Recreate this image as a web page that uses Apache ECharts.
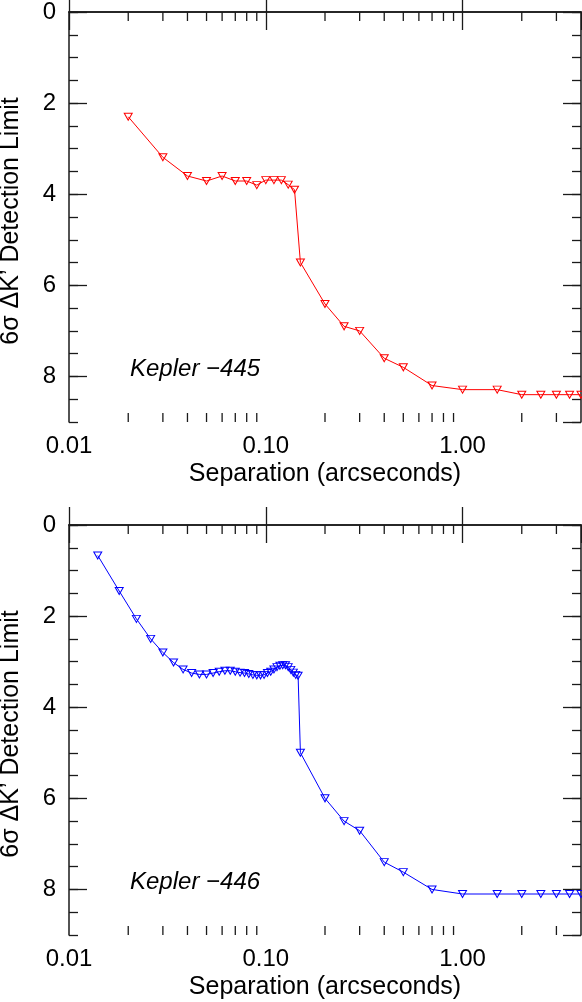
<!DOCTYPE html>
<html><head><meta charset="utf-8">
<script src="https://cdn.jsdelivr.net/npm/echarts@6/dist/echarts.min.js"></script>
<style>html,body{margin:0;padding:0;background:#fff}#c{width:582px;height:1002px}</style>
</head><body><div id="c"></div>
<script>
// ---- data ----
const minorXTicks = [0.02,0.03,0.04,0.05,0.06,0.07,0.08,0.09,0.2,0.3,0.4,0.5,0.6,0.7,0.8,0.9,2,3];
const sepTop = [0.02,0.03,0.04,0.05,0.06,0.07,0.08,0.09,0.10,0.11,0.12,0.13,0.14,0.15,0.2,0.25,0.3,0.4,0.5,0.7,1.0,1.5,2.0,2.5,3.0,3.5,4.0];
const limTop = [2.30,3.19,3.60,3.71,3.60,3.71,3.71,3.80,3.69,3.69,3.69,3.79,3.90,5.50,6.41,6.90,7.00,7.60,7.80,8.20,8.29,8.29,8.40,8.40,8.40,8.40,8.40];
const sepBot = [0.014,0.018,0.022,0.026,0.030,0.034,0.038,0.042,0.046,0.050,0.054,0.058,0.062,0.066,0.070,0.074,0.078,0.082,0.086,0.090,0.094,0.098,0.102,0.106,0.110,0.114,0.118,0.122,0.126,0.130,0.134,0.138,0.142,0.146,0.150,0.2,0.25,0.3,0.4,0.5,0.7,1.0,1.5,2.0,2.5,3.0,3.5,4.0];
const limBot = [0.67,1.45,2.06,2.50,2.80,3.02,3.17,3.25,3.28,3.28,3.25,3.22,3.20,3.20,3.22,3.24,3.25,3.27,3.29,3.30,3.30,3.29,3.25,3.22,3.17,3.12,3.09,3.08,3.08,3.12,3.18,3.24,3.29,3.31,5.00,6.00,6.50,6.71,7.40,7.62,8.00,8.10,8.10,8.10,8.10,8.10,8.10,8.10];
const panelLabels = ['Kepler \u2212445', 'Kepler \u2212446'];
const yTitle = '6\u03c3 \u0394K\u2019 Detection Limit';
const xTitle = 'Separation (arcseconds)';
const X_MIN = 0.01, X_MAX = 4, Y_MIN = 0, Y_MAX = 9;

// ---- chart ----
const FONT = '"Liberation Sans", Arial, Helvetica, sans-serif';
const AX = '#1a1a1a';
const grids = [{left:69, top:12, width:512, height:410},{left:69, top:525, width:512, height:410}];
const xAxes = [], yAxes = [], series = [], graphic = [];
grids.forEach((g, gi) => {
  const common = {type:'log', logBase:10, gridIndex:gi, min:X_MIN, max:X_MAX, splitLine:{show:false},
    axisLine:{show:true, lineStyle:{color:AX, width:1.5}},
    axisTick:{show:true, inside:true, length:18, lineStyle:{color:AX, width:1.3}}};
  xAxes.push(Object.assign({}, common, {position:'bottom',
    axisLabel:{show:true, margin:12, fontSize:24, fontFamily:FONT, color:'#000', showMaxLabel:false,
      formatter: v => Number(v).toFixed(2)},
    name:xTitle, nameLocation:'middle', nameGap:40, nameTextStyle:{fontSize:25, fontFamily:FONT, color:'#000'}}));
  xAxes.push(Object.assign({}, common, {position:'top', axisLabel:{show:false}}));
  ['left','right'].forEach(pos => {
    yAxes.push({type:'value', gridIndex:gi, position:pos, inverse:true, min:Y_MIN, max:Y_MAX, interval:0.5,
      splitLine:{show:false}, axisLine:{show:true, lineStyle:{color:AX, width:1.5}},
      axisTick:{show:true, inside:true, length:9, lineStyle:{color:AX, width:1.3}}, axisLabel:{show:false}});
    yAxes.push({type:'value', gridIndex:gi, position:pos, inverse:true, min:Y_MIN, max:Y_MAX, interval:2,
      splitLine:{show:false}, axisLine:{show:false},
      axisTick:{show:true, inside:true, length:18, lineStyle:{color:AX, width:1.3}},
      axisLabel:{show: pos==='left', margin:13, fontSize:24, fontFamily:FONT, color:'#000', showMaxLabel:false}});
  });
  // minor log ticks on bottom and top
  series.push({type:'custom', xAxisIndex:2*gi, yAxisIndex:4*gi, clip:false, silent:true,
    data: minorXTicks.map(v => [v, Y_MAX]),
    renderItem: function(params, api){
      const v = api.value(0);
      const pb = api.coord([v, Y_MAX]);
      const pt = api.coord([v, Y_MIN]);
      const st = {stroke:AX, lineWidth:1.3};
      return {type:'group', children:[
        {type:'line', shape:{x1:pb[0], y1:pb[1], x2:pb[0], y2:pb[1]-9}, style:st},
        {type:'line', shape:{x1:pt[0], y1:pt[1], x2:pt[0], y2:pt[1]+9}, style:st}]};
    }});
  const col = gi === 0 ? '#ff0000' : '#0000ff';
  const xs = gi === 0 ? sepTop : sepBot, ys = gi === 0 ? limTop : limBot;
  series.push({type:'line', xAxisIndex:2*gi, yAxisIndex:4*gi+1, data: xs.map((x,i)=>[x, ys[i]]),
    symbol:'triangle', symbolRotate:180, symbolSize:[8,7], showAllSymbol:true,
    lineStyle:{color:col, width:1}, itemStyle:{color:'rgba(255,255,255,0)', borderColor:col, borderWidth:1},
    emphasis:{disabled:true}, silent:true});
  graphic.push({type:'text', x:11, y:g.top + 209, rotation:Math.PI/2, scaleX:1.0,
    style:{text:yTitle, font:'25px ' + FONT, fill:'#000', textAlign:'center', textVerticalAlign:'middle'}});
  graphic.push({type:'text', x:130, y:g.top + 357,
    style:{text:panelLabels[gi], font:'italic 24px ' + FONT, fill:'#000', textAlign:'left', textVerticalAlign:'middle'}});
});
const chart = echarts.init(document.getElementById('c'), null, {renderer:'canvas'});
chart.setOption({animation:false, backgroundColor:'#fff', grid:grids, xAxis:xAxes, yAxis:yAxes, series:series, graphic:graphic});
</script></body></html>
